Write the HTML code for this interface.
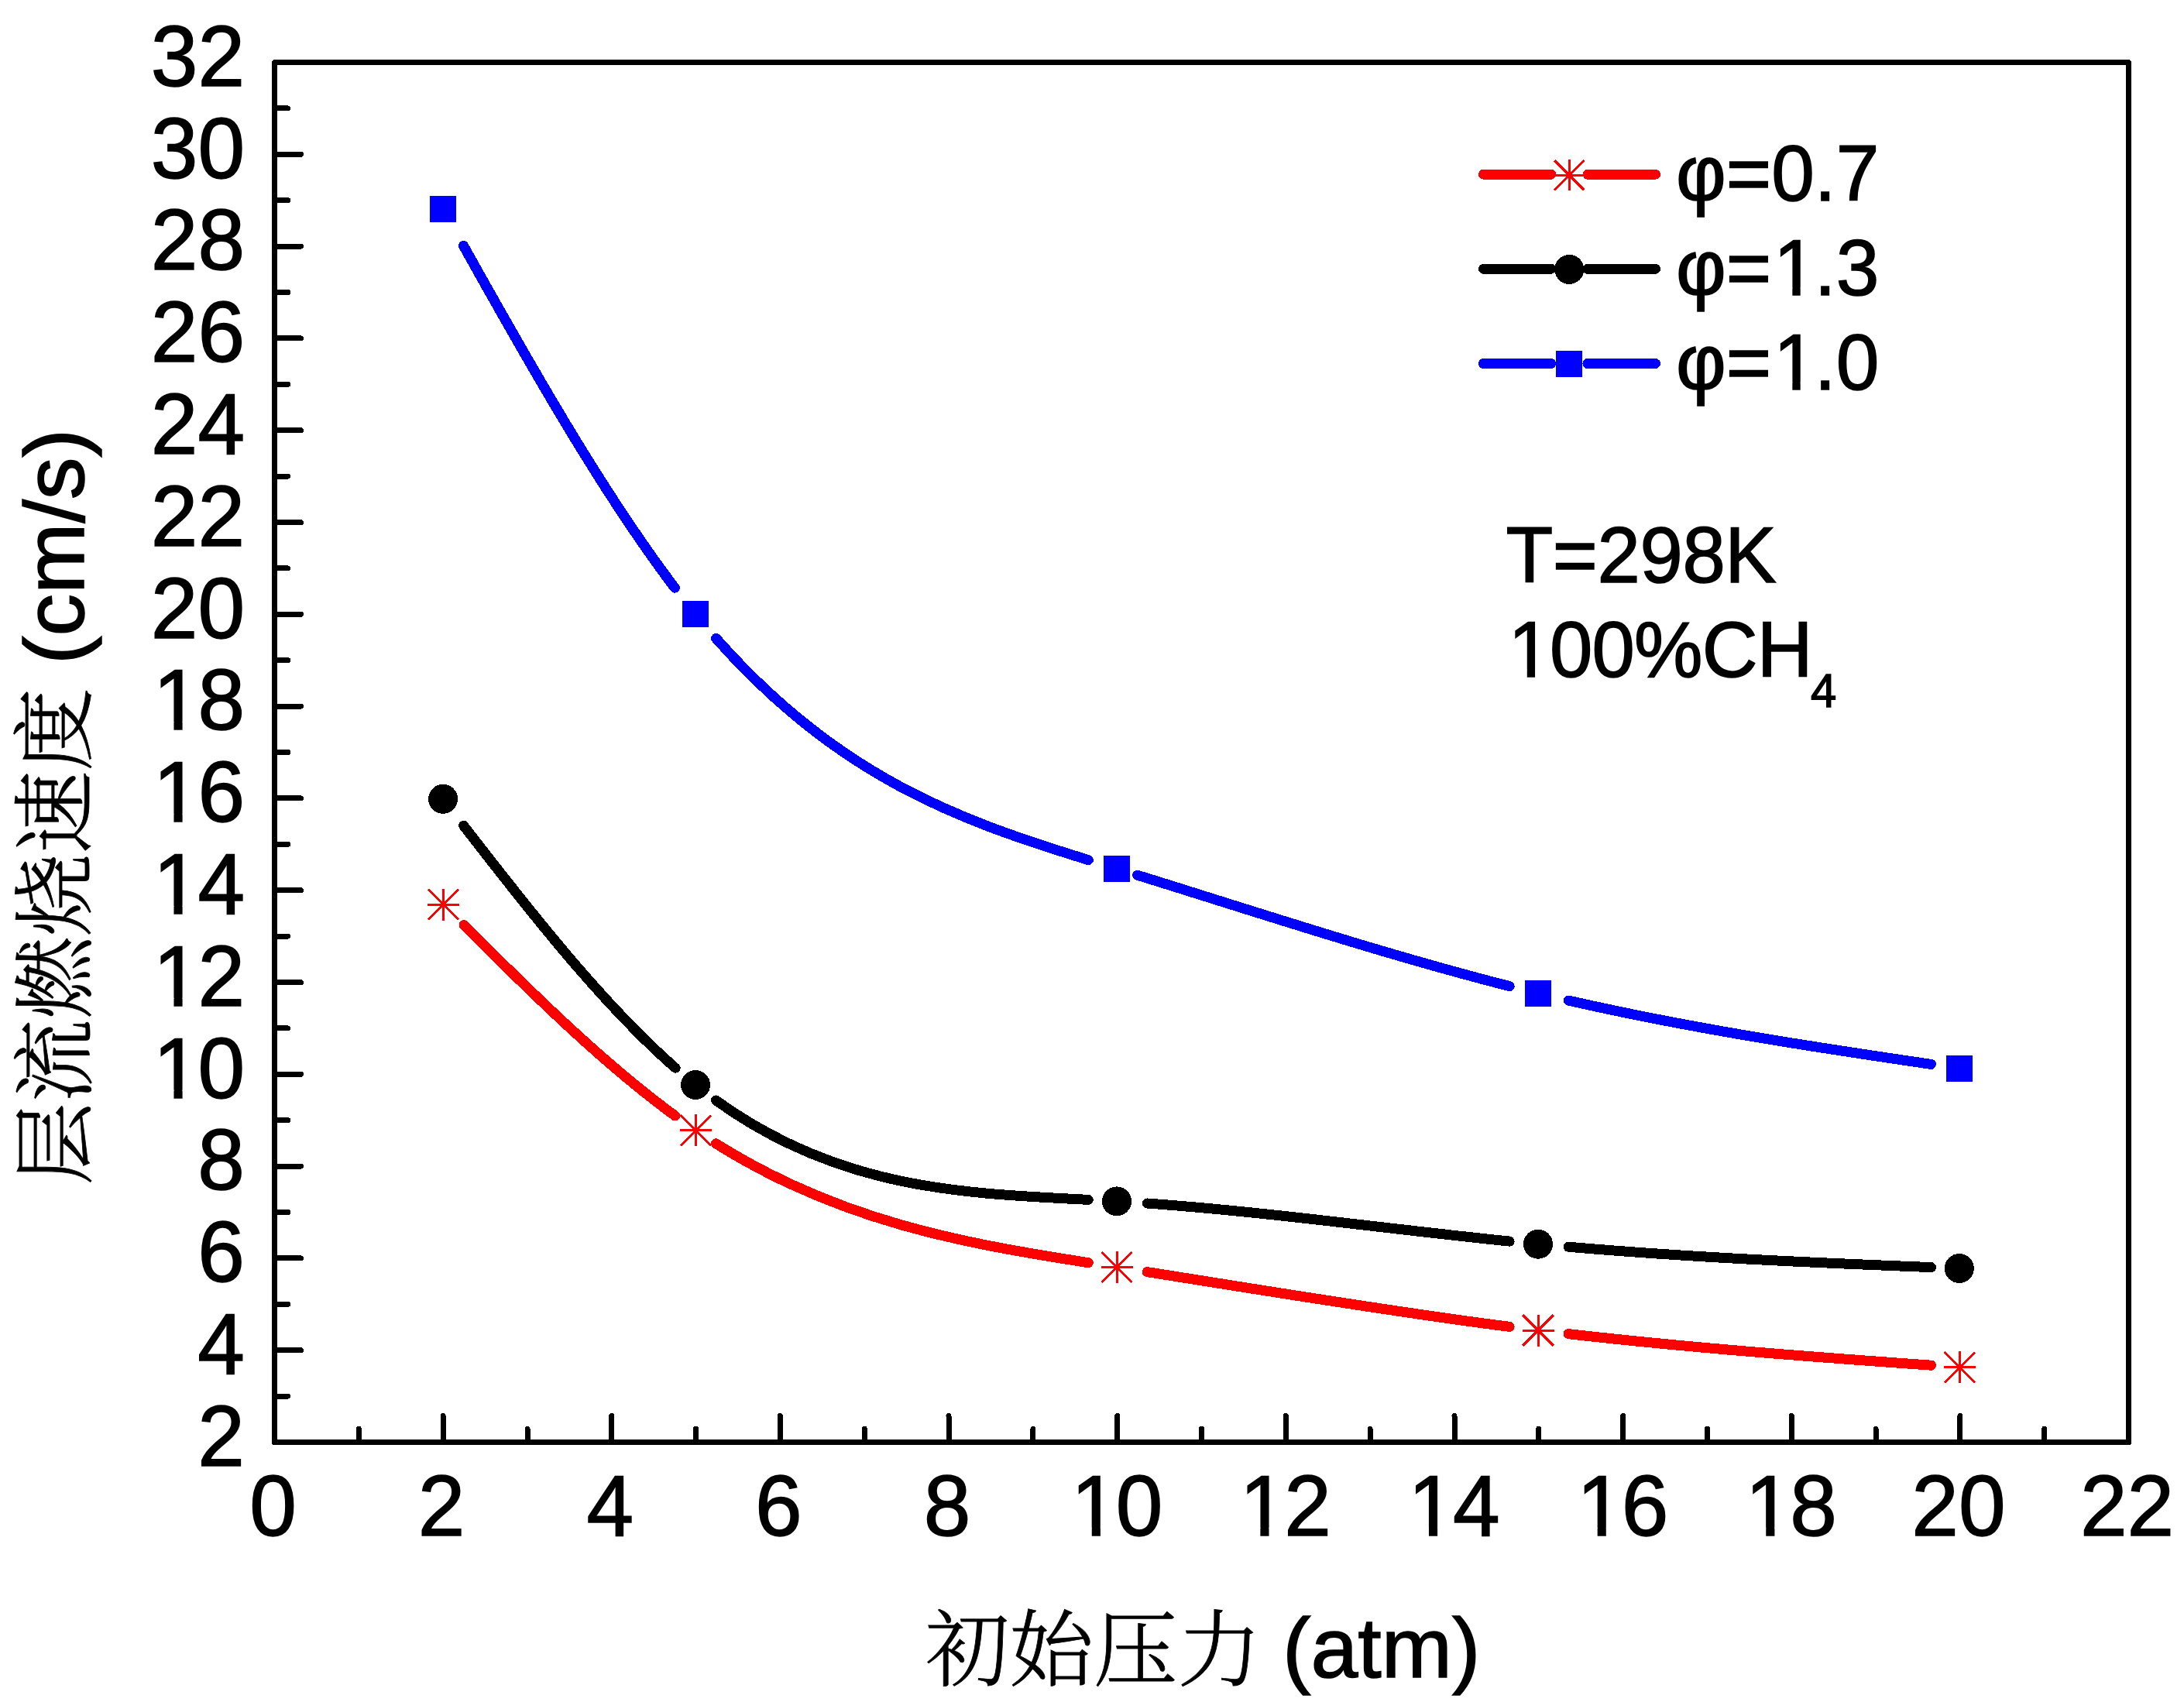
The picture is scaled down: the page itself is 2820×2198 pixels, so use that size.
<!DOCTYPE html>
<html lang="zh"><head><meta charset="utf-8"><title>层流燃烧速度 - 初始压力</title>
<style>
html,body{margin:0;padding:0;background:#fff}
body{width:2820px;height:2198px;overflow:hidden}
svg{display:block}
path,rect,circle{shape-rendering:crispEdges}
text{font-family:"Liberation Sans","Noto Serif CJK SC",sans-serif;fill:#000;stroke:#000;stroke-width:1.5px}
.cjk{font-family:"Noto Serif CJK SC","Liberation Serif",serif;font-weight:300;stroke-width:.8px}
</style></head><body>
<svg width="2820" height="2198" viewBox="0 0 2820 2198">
<rect width="2820" height="2198" fill="#fff"/>
<path d="M354.5 1803.1h17.2M354.5 1743.7h34M354.5 1684.3h17.2M354.5 1624.9h34M354.5 1565.5h17.2M354.5 1506.1h34M354.5 1446.7h17.2M354.5 1387.3h34M354.5 1327.9h17.2M354.5 1268.5h34M354.5 1209.1h17.2M354.5 1149.7h34M354.5 1090.3h17.2M354.5 1030.9h34M354.5 971.5h17.2M354.5 912.1h34M354.5 852.7h17.2M354.5 793.3h34M354.5 733.9h17.2M354.5 674.5h34M354.5 615.1h17.2M354.5 555.7h34M354.5 496.3h17.2M354.5 436.9h34M354.5 377.5h17.2M354.5 318.1h34M354.5 258.7h17.2M354.5 199.3h34M354.5 139.9h17.2M463.3 1862.5v-17.2M572.1 1862.5v-34M681.0 1862.5v-17.2M789.8 1862.5v-34M898.6 1862.5v-17.2M1007.4 1862.5v-34M1116.2 1862.5v-17.2M1225.0 1862.5v-34M1333.9 1862.5v-17.2M1442.7 1862.5v-34M1551.5 1862.5v-17.2M1660.3 1862.5v-34M1769.1 1862.5v-17.2M1878.0 1862.5v-34M1986.8 1862.5v-17.2M2095.6 1862.5v-34M2204.4 1862.5v-17.2M2313.2 1862.5v-34M2422.0 1862.5v-17.2M2530.9 1862.5v-34M2639.7 1862.5v-17.2" stroke="#000" stroke-width="7" stroke-linecap="round" fill="none"/>
<rect x="354.5" y="80.5" width="2394.0" height="1782.0" fill="none" stroke="#000" stroke-width="7" stroke-linejoin="round"/>
<text transform="translate(316.0 1892.8) scale(1 1.02)" font-size="109" text-anchor="end">2</text>
<text transform="translate(316.0 1774.0) scale(1 1.02)" font-size="109" text-anchor="end">4</text>
<text transform="translate(316.0 1655.2) scale(1 1.02)" font-size="109" text-anchor="end">6</text>
<text transform="translate(316.0 1536.4) scale(1 1.02)" font-size="109" text-anchor="end">8</text>
<text transform="translate(194.8 1417.6) scale(1 1.02)" font-size="109" text-anchor="start" dx="3 -3">10</text>
<text transform="translate(194.8 1298.8) scale(1 1.02)" font-size="109" text-anchor="start" dx="3 -3">12</text>
<text transform="translate(194.8 1180.0) scale(1 1.02)" font-size="109" text-anchor="start" dx="3 -3">14</text>
<text transform="translate(194.8 1061.2) scale(1 1.02)" font-size="109" text-anchor="start" dx="3 -3">16</text>
<text transform="translate(194.8 942.4) scale(1 1.02)" font-size="109" text-anchor="start" dx="3 -3">18</text>
<text transform="translate(316.0 823.6) scale(1 1.02)" font-size="109" text-anchor="end">20</text>
<text transform="translate(316.0 704.8) scale(1 1.02)" font-size="109" text-anchor="end">22</text>
<text transform="translate(316.0 586.0) scale(1 1.02)" font-size="109" text-anchor="end">24</text>
<text transform="translate(316.0 467.2) scale(1 1.02)" font-size="109" text-anchor="end">26</text>
<text transform="translate(316.0 348.4) scale(1 1.02)" font-size="109" text-anchor="end">28</text>
<text transform="translate(316.0 229.6) scale(1 1.02)" font-size="109" text-anchor="end">30</text>
<text transform="translate(316.0 110.8) scale(1 1.02)" font-size="109" text-anchor="end">32</text>
<text transform="translate(352.5 1983.0) scale(1 1.02)" font-size="109" text-anchor="middle">0</text>
<text transform="translate(570.1 1983.0) scale(1 1.02)" font-size="109" text-anchor="middle">2</text>
<text transform="translate(787.8 1983.0) scale(1 1.02)" font-size="109" text-anchor="middle">4</text>
<text transform="translate(1005.4 1983.0) scale(1 1.02)" font-size="109" text-anchor="middle">6</text>
<text transform="translate(1223.0 1983.0) scale(1 1.02)" font-size="109" text-anchor="middle">8</text>
<text transform="translate(1380.1 1983.0) scale(1 1.02)" font-size="109" text-anchor="start" dx="3 -3">10</text>
<text transform="translate(1597.7 1983.0) scale(1 1.02)" font-size="109" text-anchor="start" dx="3 -3">12</text>
<text transform="translate(1815.3 1983.0) scale(1 1.02)" font-size="109" text-anchor="start" dx="3 -3">14</text>
<text transform="translate(2033.0 1983.0) scale(1 1.02)" font-size="109" text-anchor="start" dx="3 -3">16</text>
<text transform="translate(2250.6 1983.0) scale(1 1.02)" font-size="109" text-anchor="start" dx="3 -3">18</text>
<text transform="translate(2528.9 1983.0) scale(1 1.02)" font-size="109" text-anchor="middle">20</text>
<text transform="translate(2746.5 1983.0) scale(1 1.02)" font-size="109" text-anchor="middle">22</text>
<text x="1195" y="2169" font-size="108.5" class="cjk">初始压力</text>
<text x="1656" y="2166" font-size="109.5">(atm)</text>
<g transform="translate(108.2 0) rotate(-90)">
<text x="-1530.5" y="0.7" font-size="107" class="cjk">层流燃烧速度</text>
<text x="-858" y="0" font-size="109.5">(cm/s)</text>
</g>
<path d="M599.0 1194.7C689.9 1285.6 780.8 1374.6 871.7 1441.0M924.4 1476.8C1084.7 1577.6 1245.0 1605.6 1405.3 1630.7M1481.2 1642.6C1637.2 1667.2 1793.1 1693.4 1949.1 1713.4M2025.1 1722.6C2181.2 1740.5 2337.4 1752.1 2493.5 1763.2" stroke="#f00" stroke-width="13" stroke-linecap="round" fill="none"/>
<path d="M598.6 1066.2C689.8 1184.3 780.9 1299.3 872.1 1379.2M924.4 1421.0C1084.7 1536.8 1245.0 1541.1 1405.3 1549.4M1481.2 1554.0C1637.2 1565.2 1793.1 1587.2 1949.1 1603.1M2025.1 1610.2C2181.2 1623.8 2337.4 1630.5 2493.5 1636.6" stroke="#000" stroke-width="13" stroke-linecap="round" fill="none"/>
<path d="M598.5 317.4C689.4 480.2 780.4 639.4 871.3 759.1M924.6 824.4C1084.8 1006.4 1245.1 1061.1 1405.3 1110.6M1468.7 1130.2C1628.8 1179.9 1789.0 1232.9 1949.1 1273.6M2025.1 1292.0C2181.2 1327.7 2337.3 1351.5 2493.4 1374.4" stroke="#00f" stroke-width="13" stroke-linecap="round" fill="none"/>
<path d="M552.0 1168.1H593.0M572.5 1147.6V1188.6M552.9 1148.5L592.1 1187.7M552.9 1187.7L592.1 1148.5" stroke="#f00" stroke-width="3" fill="none"/>
<path d="M877.9 1459.8H918.9M898.4 1439.3V1480.3M878.8 1440.2L918.0 1479.4M878.8 1479.4L918.0 1440.2" stroke="#f00" stroke-width="3" fill="none"/>
<path d="M1421.5 1636.4H1462.5M1442.0 1615.9V1656.9M1422.4 1616.8L1461.6 1656.0M1422.4 1656.0L1461.6 1616.8" stroke="#f00" stroke-width="3" fill="none"/>
<path d="M1965.5 1718.0H2006.5M1986.0 1697.5V1738.5M1966.4 1698.4L2005.6 1737.6M1966.4 1737.6L2005.6 1698.4" stroke="#f00" stroke-width="3" fill="none"/>
<path d="M2509.9 1765.8H2550.9M2530.4 1745.3V1786.3M2510.8 1746.2L2550.0 1785.4M2510.8 1785.4L2550.0 1746.2" stroke="#f00" stroke-width="3" fill="none"/>
<circle cx="572.1" cy="1031.8" r="19" fill="#000"/>
<circle cx="898.1" cy="1401.0" r="19" fill="#000"/>
<circle cx="1442.0" cy="1551.4" r="19" fill="#000"/>
<circle cx="1986.0" cy="1606.7" r="19" fill="#000"/>
<circle cx="2529.8" cy="1638.0" r="19" fill="#000"/>
<rect x="555.0" y="252.9" width="34" height="34" fill="#00f"/>
<rect x="881.0" y="776.0" width="34" height="34" fill="#00f"/>
<rect x="1425.0" y="1104.9" width="34" height="34" fill="#00f"/>
<rect x="1969.0" y="1265.8" width="34" height="34" fill="#00f"/>
<rect x="2513.0" y="1362.8" width="34" height="34" fill="#00f"/>
<path d="M1915.5 225.2H2002.7M2050 225.2H2137.5" stroke="#f00" stroke-width="13" stroke-linecap="round" fill="none"/>
<path d="M1915.5 347.3H2002.7M2050 347.3H2137.5" stroke="#000" stroke-width="13" stroke-linecap="round" fill="none"/>
<path d="M1915.5 469.5H2002.7M2050 469.5H2137.5" stroke="#00f" stroke-width="13" stroke-linecap="round" fill="none"/>
<path d="M2006.3 226.3H2046.3M2026.3 206.3V246.3M2007.2 207.2L2045.4 245.4M2007.2 245.4L2045.4 207.2" stroke="#f00" stroke-width="3" fill="none"/>
<circle cx="2026.3" cy="347.9" r="19" fill="#000"/>
<rect x="2009.3" y="452.7" width="34" height="34" fill="#00f"/>
<text transform="translate(2164.0 259.0) scale(1 1.02)" font-size="100.0" text-anchor="start">φ=0.7</text>
<text transform="translate(2164.0 381.0) scale(1 1.02)" font-size="100.0" text-anchor="start" dx="0 0 2.7 -2.7">φ=1.3</text>
<text transform="translate(2164.0 503.0) scale(1 1.02)" font-size="100.0" text-anchor="start" dx="0 0 2.7 -2.7">φ=1.0</text>
<text transform="translate(1944.5 752.0) scale(1 1.02)" font-size="99.5" text-anchor="start" letter-spacing="-0.4">T=298K</text>
<text transform="translate(1946.5 874.0) scale(1 1.02)" font-size="99.5" text-anchor="start" letter-spacing="-0.8" dx="1 -1">100%CH</text>
<text transform="translate(2338.0 912.6) scale(1 1.02)" font-size="59.7" text-anchor="start">4</text>
<path d="M204.35 1407.53H224.46V1419.36H204.35zM235.59 1407.53H254.85V1419.36H235.59zM204.35 1288.73H224.46V1300.57H204.35zM235.59 1288.73H254.85V1300.57H235.59zM204.35 1169.93H224.46V1181.76H204.35zM235.59 1169.93H254.85V1181.76H235.59zM204.35 1051.13H224.46V1062.96H204.35zM235.59 1051.13H254.85V1062.96H235.59zM204.35 932.33H224.46V944.17H204.35zM235.59 932.33H254.85V944.17H235.59zM1389.65 1972.93H1409.76V1984.76H1389.65zM1420.89 1972.93H1440.15V1984.76H1420.89zM1607.25 1972.93H1627.36V1984.76H1607.25zM1638.49 1972.93H1657.75V1984.76H1638.49zM1824.85 1972.93H1844.96V1984.76H1824.85zM1856.09 1972.93H1875.35V1984.76H1856.09zM2042.55 1972.93H2062.66V1984.76H2042.55zM2073.79 1972.93H2093.05V1984.76H2073.79zM2260.15 1972.93H2280.26V1984.76H2260.15zM2291.39 1972.93H2310.65V1984.76H2291.39zM2295.81 371.61H2314.34V382.76H2295.81zM2324.68 371.61H2342.43V382.76H2324.68zM2295.81 493.61H2314.34V504.76H2295.81zM2324.68 493.61H2342.43V504.76H2324.68zM1953.33 864.65H1971.77V875.76H1953.33zM1982.06 864.65H1999.73V875.76H1982.06z" fill="#fff" style="shape-rendering:auto"/>
</svg></body></html>
